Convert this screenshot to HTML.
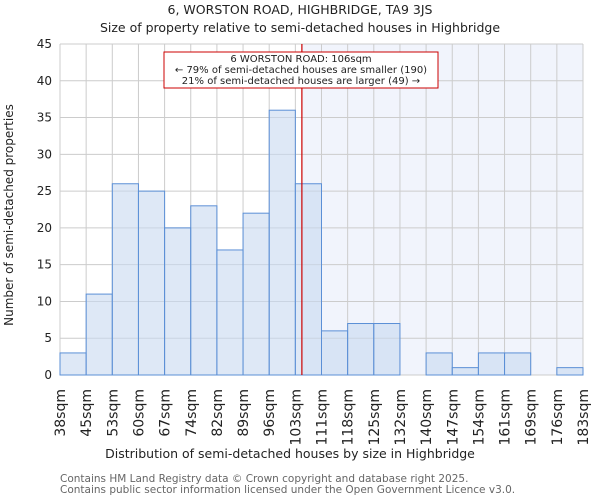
<!DOCTYPE html>
<html><head><meta charset="utf-8"><style>
body{margin:0;background:#fff;font-family:"DejaVu Sans","Liberation Sans",sans-serif}
svg text{font-family:"DejaVu Sans","Liberation Sans",sans-serif}
</style></head><body>
<svg id="c" width="600" height="500" xmlns="http://www.w3.org/2000/svg">
<text x="300" y="14" text-anchor="middle" font-size="12.5" fill="#222">6, WORSTON ROAD, HIGHBRIDGE, TA9 3JS</text>
<text x="300" y="32" text-anchor="middle" font-size="12.5" fill="#222">Size of property relative to semi-detached houses in Highbridge</text>
<g id="plot"></g>
<text x="290" y="458" text-anchor="middle" font-size="12.5" fill="#222">Distribution of semi-detached houses by size in Highbridge</text>
<text transform="translate(13,215) rotate(-90)" text-anchor="middle" font-size="12" fill="#222">Number of semi-detached properties</text>
<text x="60" y="482" font-size="10.5" fill="#666">Contains HM Land Registry data © Crown copyright and database right 2025.</text>
<text x="60" y="493" font-size="10.5" fill="#666">Contains public sector information licensed under the Open Government Licence v3.0.</text>
</svg>
<script>
const binLabels=["38sqm","45sqm","53sqm","60sqm","67sqm","74sqm","82sqm","89sqm","96sqm","103sqm","111sqm","118sqm","125sqm","132sqm","140sqm","147sqm","154sqm","161sqm","169sqm","176sqm","183sqm"];
const counts=[3,11,26,25,20,23,17,22,36,26,6,7,7,0,3,1,3,3,0,1];
const yTicks=[0,5,10,15,20,25,30,35,40,45];
const propertyBinPos=9.25;
const NS="http://www.w3.org/2000/svg";
const L=60,R=583,T=44,B=375,yMax=45;
const bw=(R-L)/counts.length;
const xs=i=>L+i*bw;
const ys=v=>B-v/yMax*(B-T);
const g=document.getElementById('plot');
function mk(t,a){const e=document.createElementNS(NS,t);for(const k in a)e.setAttribute(k,a[k]);g.appendChild(e);return e;}
const px=xs(propertyBinPos);
let e=mk('rect',{x:px,y:T,width:R-px,height:B-T,fill:'#f1f4fc'});


yTicks.forEach(v=>{
 let l=mk('line',{x1:L,x2:R,y1:ys(v),y2:ys(v),stroke:'#ccc','stroke-width':1});
 
 
 let t=mk('text',{x:L-8,y:ys(v)+4,'text-anchor':'end','font-size':12,fill:'#222'});
 t.textContent=v;
 
 
});
binLabels.forEach((s,i)=>{
 let l=mk('line',{x1:xs(i),x2:xs(i),y1:T,y2:B,stroke:'#ccc','stroke-width':1});
 
 
 let t=mk('text',{transform:`translate(${xs(i)+5},389) rotate(-90)`,'text-anchor':'end','font-size':14,fill:'#222'});
 t.textContent=s;
 
 
});
counts.forEach((v,i)=>{
 let r=mk('rect',{x:xs(i),y:ys(v),width:bw,height:B-ys(v),fill:'rgba(200,216,240,0.6)',stroke:'#5b8fd6','stroke-width':1});
 
 
});
e=mk('line',{x1:px,x2:px,y1:T,y2:B,stroke:'#cc0000','stroke-width':1.2});


e=mk('rect',{x:164,y:52,width:274,height:36,fill:'#fff',stroke:'#cc0000','stroke-width':1});


[["6 WORSTON ROAD: 106sqm",62],["← 79% of semi-detached houses are smaller (190)",73],["21% of semi-detached houses are larger (49) →",84]].forEach(a=>{
 let t=mk('text',{x:301,y:a[1],'text-anchor':'middle','font-size':10,fill:'#222'});
 t.textContent=a[0];
 
 
});
</script>
</body></html>
